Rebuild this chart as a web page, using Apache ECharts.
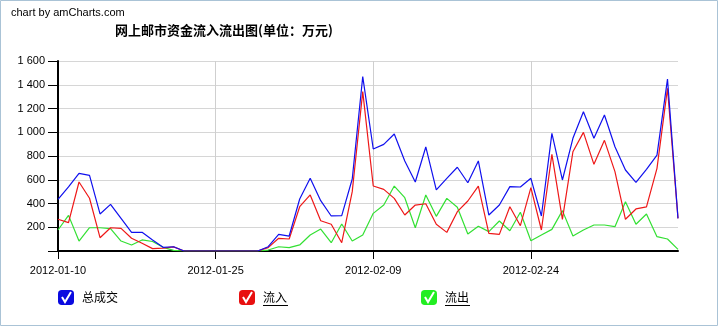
<!DOCTYPE html>
<html>
<head>
<meta charset="utf-8">
<script src="https://cdn.jsdelivr.net/npm/echarts@6/dist/echarts.min.js"></script>
<style>
html,body{margin:0;padding:0;background:#fff;}
#c{width:719px;height:328px;}
</style>
</head>
<body>
<div id="c"></div>
<script>
// ---- data ----
var startDate = '2012-01-10';
var dayCount = 60;
var seriesNames = ['总成交', '流入', '流出'];
var totalVals = [435,540,654,637,312,393,275,157,157,93,31,36,0,0,0,0,0,0,0,0,
  36,140,126,438,612,424,295,298,606,1468,859,898,985,758,581,876,514,612,705,575,
  758,303,387,542,539,612,295,991,598,949,1173,949,1145,878,682,578,688,808,1448,275];
var inflowVals = [267,239,581,444,112,196,191,107,65,20,25,35,0,0,0,0,0,0,0,0,
  28,107,101,373,472,255,225,70,500,1342,547,519,443,303,387,398,225,157,331,421,
  547,149,140,373,213,533,177,814,267,836,999,730,932,668,267,354,371,696,1370,275];
var outflowVals = [177,300,84,196,196,188,84,51,93,80,31,5,0,0,0,0,0,0,0,0,
  8,36,28,51,135,185,70,227,84,135,317,387,547,449,196,472,292,443,368,143,
  208,163,253,171,326,87,135,182,340,126,177,219,219,205,415,225,312,121,101,14];
var yTicks = [0,200,400,600,800,1000,1200,1400,1600];

function buildDates(start, n){
  var out = [];
  var p = start.split('-');
  var d = new Date(Date.UTC(+p[0], +p[1]-1, +p[2]));
  for (var i=0;i<n;i++){
    var dd = new Date(d.getTime() + i*86400000);
    var m = dd.getUTCMonth()+1, day = dd.getUTCDate();
    out.push(dd.getUTCFullYear()+'-'+(m<10?'0':'')+m+'-'+(day<10?'0':'')+day);
  }
  return out;
}
var dates = buildDates(startDate, dayCount);

var colors = ['#1010ee', '#ee1818', '#33e033'];
var legendBoxColors = ['#0a0ae0', '#e81010', '#22ee22'];
var font = '"Liberation Sans", Arial, sans-serif';
var cjk = '"Noto Sans CJK SC", "Liberation Sans", sans-serif';

var chart = echarts.init(document.getElementById('c'), null, {renderer:'canvas'});
function every15(i){ return i % 15 === 0; }

var legendLefts = [58, 239, 421];
var legends = seriesNames.map(function(n, i){
  return {
    data: [{name: n, icon: 'roundRect', itemStyle: {color: legendBoxColors[i]}}],
    left: legendLefts[i], top: 290, padding: 0,
    itemWidth: 16, itemHeight: 15,
    selectedMode: false,
    textStyle: {fontFamily: cjk, fontSize: 12, color: '#000', padding: [0,0,0,3]}
  };
});

function check(x, y){
  return {type:'polyline', z: 100, silent: true,
    shape:{points:[[x+4,y+7],[x+7,y+12],[x+13,y+2]]},
    style:{stroke:'#fff', lineWidth:2, fill:null}};
}

chart.setOption({
  animation: false,
  backgroundColor: '#fff',
  title: {
    text: '网上邮市资金流入流出图(单位：万元)',
    left: 115, top: 24, padding: 0,
    textStyle: {fontFamily: cjk, fontSize: 13, fontWeight: 'bold', color: '#000'}
  },
  legend: legends,
  grid: {left: 58, right: 41, top: 61, bottom: 77, containLabel: false},
  xAxis: {
    type: 'category',
    data: dates,
    boundaryGap: false,
    axisLine: {lineStyle: {color: '#000', width: 2}},
    axisTick: {show: true, interval: every15, length: 8, lineStyle: {color: '#000', width: 1}},
    axisLabel: {interval: every15, margin: 14, fontFamily: font, fontSize: 11, color: '#000'},
    splitLine: {show: true, interval: every15, lineStyle: {color: '#cfcfcf', width: 1}}
  },
  yAxis: {
    type: 'value',
    min: yTicks[0], max: yTicks[yTicks.length-1], interval: yTicks[1]-yTicks[0],
    axisLine: {show: true, lineStyle: {color: '#000', width: 2}},
    axisTick: {show: true, length: 10, lineStyle: {color: '#000', width: 1}},
    axisLabel: {
      margin: 13, fontFamily: font, fontSize: 11, color: '#000',
      formatter: function(v){
        if (v === 0) return '';
        var s = String(v);
        return s.length > 3 ? s.slice(0, s.length-3) + ' ' + s.slice(-3) : s;
      }
    },
    splitLine: {show: true, lineStyle: {color: '#d6d6d6', width: 1}}
  },
  series: [
    {name: seriesNames[2], type: 'line', data: outflowVals, symbol: 'none', color: colors[2],
      lineStyle: {width: 1.2, color: colors[2]}, z: 2},
    {name: seriesNames[1], type: 'line', data: inflowVals, symbol: 'none', color: colors[1],
      lineStyle: {width: 1.2, color: colors[1]}, z: 3},
    {name: seriesNames[0], type: 'line', data: totalVals, symbol: 'none', color: colors[0],
      lineStyle: {width: 1.2, color: colors[0]}, z: 4}
  ],
  graphic: [
    {type:'rect', silent:true, z:100, shape:{x:0.5,y:0.5,width:717,height:325},
      style:{fill:null, stroke:'#aac3d6', lineWidth:1}},
    {type:'text', left: 11, top: 7, silent:true,
      style:{text:'chart by amCharts.com', fontFamily: font, fontSize: 11, fill:'#000'}},
    check(58, 290), check(239, 290), check(421, 290),
    {type:'line', silent:true, z:100, shape:{x1:263,y1:305.5,x2:288,y2:305.5}, style:{stroke:'#000', lineWidth:1}},
    {type:'line', silent:true, z:100, shape:{x1:445,y1:305.5,x2:470,y2:305.5}, style:{stroke:'#000', lineWidth:1}}
  ]
});
</script>
</body>
</html>
